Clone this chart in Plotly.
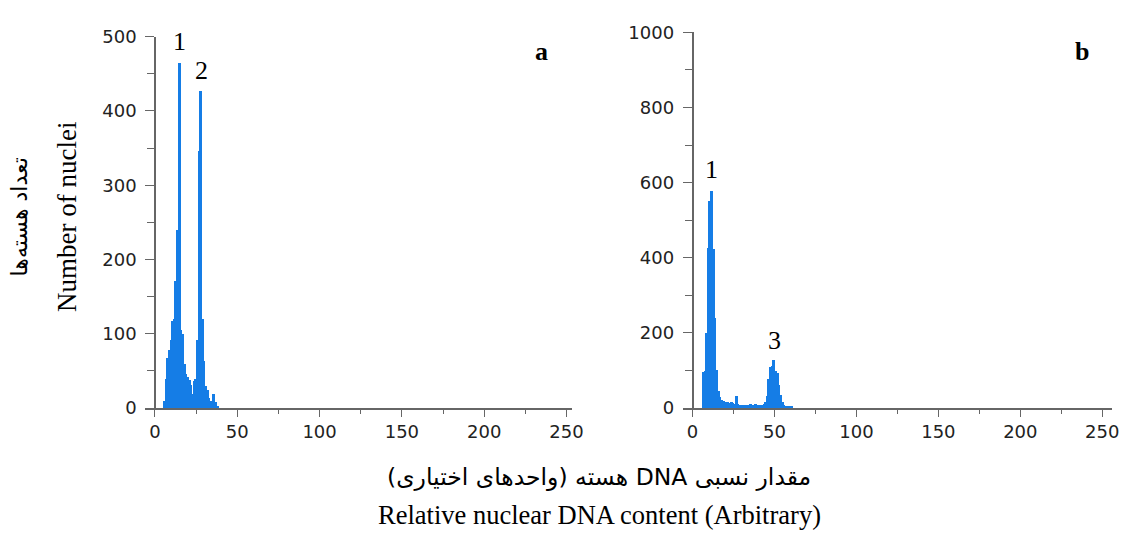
import plotly.graph_objects as go

# ---------------- data ----------------
# panel a: histogram channels (bin start) and counts
channels_a = list(range(5, 38))
counts_a = [10, 40, 68, 79, 92, 118, 120, 172, 240, 465, 105, 100, 60, 46, 42, 38,
            32, 19, 37, 40, 92, 346, 427, 120, 64, 30, 25, 14, 10, 9, 19, 8, 3]

# panel b: histogram channels (bin centre) and counts
channels_b = list(range(6, 61))
counts_b = [95, 98, 200, 426, 550, 578, 422, 240, 100, 45, 28, 20, 17, 16, 15, 14,
            13, 15, 12, 10, 30, 10, 8, 8, 7, 8, 7, 6, 6, 9, 8, 6, 10, 8, 6, 5,
            7, 10, 14, 30, 75, 108, 110, 126, 98, 92, 60, 35, 15, 8, 5, 4, 3, 3, 2]

x_ticks = [0, 50, 100, 150, 200, 250]
y_ticks_a = [0, 100, 200, 300, 400, 500]
y_ticks_b = [0, 200, 400, 600, 800, 1000]

panel_labels = ["a", "b"]
peak_labels_a = ["1", "2"]
peak_labels_b = ["1", "3"]

y_title_en = "Number of nuclei"
y_title_fa = "تعداد هسته\u200cها"
x_title_en = "Relative nuclear DNA content (Arbitrary)"
x_title_fa = "\u202bمقدار نسبی DNA هسته (واحدهای اختیاری)\u202c"

# ---------------- layout helpers ----------------
W, H = 1136, 535
def fx(px):
    return px / W
def fy(py):
    return 1 - py / H

BAR = "#157de6"
AX = "#666666"
TICKFONT = dict(family="DejaVu Sans", size=18, color="#222222")
SERIF = "Liberation Serif, Times New Roman, DejaVu Serif"

fig = go.Figure()
# bars overlap so that sub-pixel bins render as one solid histogram
fig.add_trace(go.Bar(x=channels_a, y=counts_a, width=1.8, offset=0,
                     marker=dict(color=BAR, line=dict(width=0)),
                     xaxis="x", yaxis="y", showlegend=False))
fig.add_trace(go.Bar(x=channels_b, y=counts_b, width=1.8, offset=-0.5,
                     marker=dict(color=BAR, line=dict(width=0)),
                     xaxis="x2", yaxis="y2", showlegend=False))

def xax(domain_px, zero_px, sc, anchor):
    return dict(domain=[fx(domain_px[0]), fx(domain_px[1])],
                range=[(domain_px[0] - zero_px) / sc, (domain_px[1] - zero_px) / sc],
                anchor=anchor, showgrid=False, zeroline=False,
                showline=True, linecolor=AX, linewidth=1.5,
                ticks="outside", ticklen=7, tickcolor=AX, tickwidth=1.3,
                tickvals=x_ticks, ticktext=[str(v) for v in x_ticks],
                minor=dict(dtick=25, tick0=0, ticks="outside", ticklen=4, tickcolor=AX, tickwidth=1.3),
                tickfont=TICKFONT, fixedrange=True)

def yax(dom_px, rng, ticks, minor, pos_px):
    return dict(domain=[fy(dom_px[0]), fy(dom_px[1])], range=rng,
                anchor="free", position=fx(pos_px), showgrid=False, zeroline=False,
                showline=True, linecolor=AX, linewidth=1.5,
                ticks="outside", ticklen=9, tickcolor=AX, tickwidth=1.3,
                tickvals=ticks, ticktext=[str(v) for v in ticks], ticklabelstandoff=5,
                minor=dict(dtick=minor, tick0=0, ticks="outside", ticklen=7, tickcolor=AX, tickwidth=1.3),
                tickfont=TICKFONT, fixedrange=True)

fig.update_layout(
    width=W, height=H,
    margin=dict(l=0, r=0, t=0, b=0),
    paper_bgcolor="white", plot_bgcolor="white",
    bargap=0, barmode="overlay", showlegend=False,
    xaxis=xax((146.7, 578), 156.5, 1.662, "y"),
    yaxis=yax((413.3, 26.7), [0, 500], y_ticks_a, 50, 156.5),
    xaxis2=xax((689.3, 1123), 699.3, 1.655, "y2"),
    yaxis2=yax((413.3, 22.3), [0, 1000], y_ticks_b, 100, 699.3),
)

def ann(x, y, text, size, bold=False, angle=0, family=SERIF):
    fig.add_annotation(x=fx(x), y=fy(y), xref="paper", yref="paper",
                       text=("<b>%s</b>" % text) if bold else text,
                       showarrow=False, xanchor="center", yanchor="middle", textangle=angle,
                       font=dict(family=family, size=size, color="black"))

# peak labels
ann(181, 32, peak_labels_a[0], 26)
ann(203, 62, peak_labels_a[1], 26)
ann(718, 165, peak_labels_b[0], 26)
ann(782, 343, peak_labels_b[1], 26)
# panel labels
ann(547, 42, panel_labels[0], 26, bold=True)
ann(1093, 42, panel_labels[1], 26, bold=True)
# axis titles
ann(67, 214, y_title_en, 27, angle=-90)
ann(20, 214, y_title_fa, 22, angle=-90, family="DejaVu Sans, " + SERIF)
ann(605, 485, x_title_fa, 23.5, family="DejaVu Sans, " + SERIF)
ann(605, 525, x_title_en, 26.5)

fig.write_html("out.html")
